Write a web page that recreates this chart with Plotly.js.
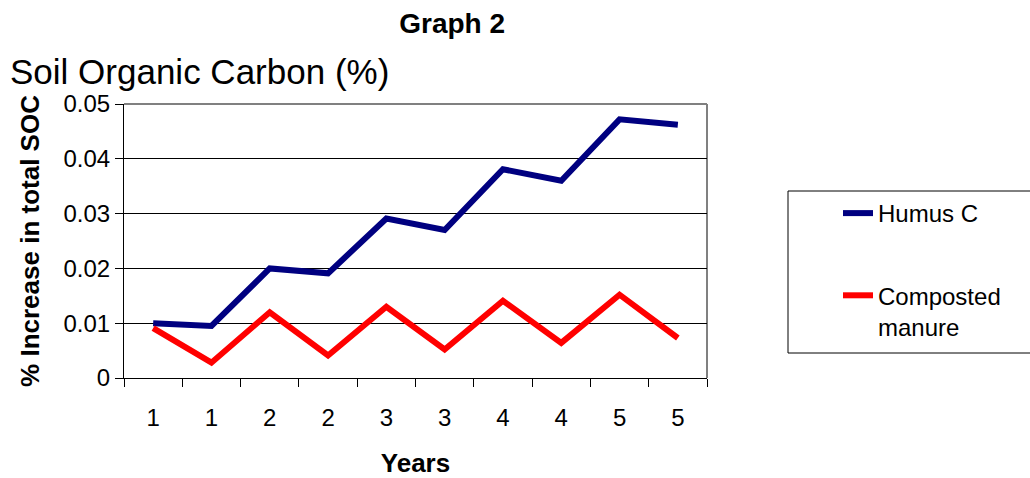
<!DOCTYPE html>
<html>
<head>
<meta charset="utf-8">
<script src="https://cdn.plot.ly/plotly-3.0.1.min.js"></script>
<style>html,body{margin:0;padding:0;background:#fff;}#chart{width:1030px;height:478px;}</style>
</head>
<body>
<div id="chart"></div>
<script>
const positions = [0, 1, 2, 3, 4, 5, 6, 7, 8, 9];
const tickLabels = ['1', '1', '2', '2', '3', '3', '4', '4', '5', '5'];
const humusC = [0.0100, 0.0095, 0.0200, 0.0191, 0.0291, 0.0270, 0.0381, 0.0360, 0.0472, 0.0462];
const compostedManure = [0.0091, 0.0028, 0.0120, 0.0041, 0.0130, 0.0052, 0.0141, 0.0064, 0.0152, 0.0073];

const FONT = 'Liberation Sans, Arial, sans-serif';
const PLOT_L = 124, PLOT_W = 583, PLOT_B = 378, PLOT_H = 274;
const px = v => (v - PLOT_L) / PLOT_W;
const py = v => (PLOT_B - v) / PLOT_H;

const traces = [
  {x: positions, y: humusC, type: 'scatter', mode: 'lines', name: 'Humus C',
   legendgroup: 'a', line: {color: '#000080', width: 6}},
  {x: positions, y: compostedManure, type: 'scatter', mode: 'lines', name: 'Composted<br>manure',
   legendgroup: 'b', line: {color: '#FF0000', width: 6}}
];

const layout = {
  width: 1030, height: 478,
  margin: {l: 124, r: 323, t: 104, b: 100},
  paper_bgcolor: '#fff', plot_bgcolor: '#fff',
  font: {family: FONT, color: '#000', size: 24},
  title: {text: '<b>Graph 2</b>', font: {family: FONT, size: 28, color: '#000'},
          x: 0.439, xanchor: 'center', xref: 'container', y: 0.952, yanchor: 'middle', yref: 'container'},
  showlegend: true,
  legend: {x: px(838), xanchor: 'left', y: py(191), yanchor: 'top',
           borderwidth: 0, bgcolor: 'rgba(0,0,0,0)',
           font: {family: FONT, size: 24, color: '#000'},
           traceorder: 'grouped', tracegroupgap: 48, valign: 'top'},
  xaxis: {
    range: [-0.5, 9.5], tickmode: 'array', tickvals: positions, ticktext: tickLabels,
    ticks: '', showgrid: false, zeroline: false, showline: true, linecolor: '#000', linewidth: 1,
    tickfont: {family: FONT, size: 24, color: '#000'}, ticklabelstandoff: 18,
    minor: {tick0: -0.5, dtick: 1, ticks: 'outside', ticklen: 8, tickcolor: '#000', tickwidth: 1, showgrid: false},
    title: {text: '<b>Years</b>', font: {family: FONT, size: 26, color: '#000'}, standoff: 24}
  },
  yaxis: {
    range: [0, 0.05], dtick: 0.01, tick0: 0,
    ticks: 'outside', ticklen: 8, tickcolor: '#000',
    showgrid: true, gridcolor: '#000', gridwidth: 1, zeroline: false,
    showline: true, linecolor: '#000', linewidth: 1,
    tickfont: {family: FONT, size: 24, color: '#000'},
    title: {text: '<b>% Increase in total SOC</b>', font: {family: FONT, size: 26, color: '#000'}, standoff: 16}
  },
  shapes: [
    {type: 'line', xref: 'paper', yref: 'paper', x0: 0, x1: 1, y0: 1, y1: 1, line: {color: '#808080', width: 2}, layer: 'above'},
    {type: 'line', xref: 'paper', yref: 'paper', x0: 1, x1: 1, y0: 0, y1: 1, line: {color: '#808080', width: 2}, layer: 'below'},
    {type: 'rect', xref: 'paper', yref: 'paper', x0: px(788), x1: px(1045), y0: py(353), y1: py(191),
     line: {color: '#000', width: 1}, fillcolor: 'rgba(0,0,0,0)', layer: 'below'}
  ],
  annotations: [
    {text: 'Soil Organic Carbon (%)', xref: 'paper', yref: 'paper', x: px(8), xanchor: 'left',
     y: py(72), yanchor: 'middle', showarrow: false, font: {family: FONT, size: 35, color: '#000'}}
  ]
};

Plotly.newPlot('chart', traces, layout, {displayModeBar: false, responsive: false});
</script>
</body>
</html>
